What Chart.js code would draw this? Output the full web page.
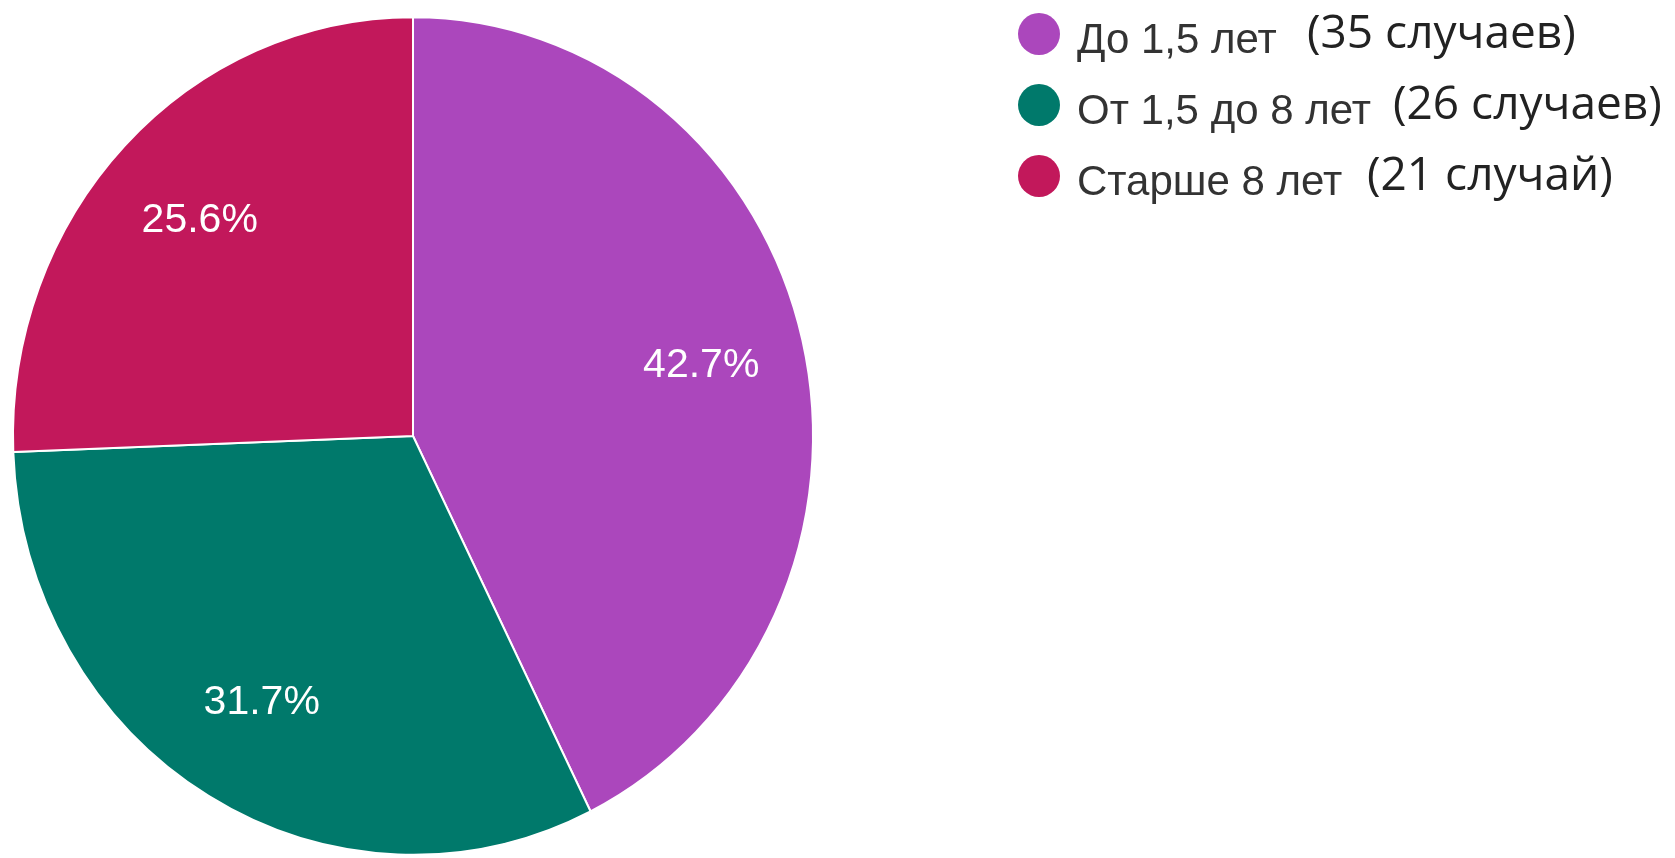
<!DOCTYPE html>
<html lang="ru">
<head>
<meta charset="utf-8">
<script src="https://cdn.jsdelivr.net/npm/chart.js@4.4.1/dist/chart.umd.min.js"></script>
<style>
    html, body { margin: 0; padding: 0; background: #fff; overflow: hidden; }
    #wrap { width: 1675px; height: 858px; }
</style>
</head>
<body>
<div id="wrap"><canvas id="ageChart" width="1675" height="858"></canvas></div>
<script>
// data
const categories = ['До 1,5 лет', 'От 1,5 до 8 лет', 'Старше 8 лет'];
const caseCounts = [35, 26, 21];
const caseWords = ['случаев', 'случаев', 'случай'];
const sliceColors = ['#ab47bc', '#00796b', '#c2185b'];

// layout bits
const Y_STRETCH = 1.047;          // the source pie is a little taller than wide
const LABEL_RADIUS = 0.74;
const legendCountX = [1307, 1393, 1367];

const totalCases = caseCounts.reduce((a, b) => a + b, 0);

// draw the arcs slightly stretched vertically, around the pie centre
const stretchPlugin = {
    id: 'stretch',
    beforeDatasetsDraw(chart) {
        const arc = chart.getDatasetMeta(0).data[0];
        const ctx = chart.ctx;
        ctx.save();
        ctx.translate(arc.x, arc.y);
        ctx.scale(1, Y_STRETCH);
        ctx.translate(-arc.x, -arc.y);
    },
    afterDatasetsDraw(chart) {
        chart.ctx.restore();
    }
};

// percentage text inside slices
const sliceLabels = {
    id: 'sliceLabels',
    afterDraw(chart) {
        const ctx = chart.ctx;
        const meta = chart.getDatasetMeta(0);
        ctx.save();
        ctx.font = '41px "Liberation Sans", Arial, sans-serif';
        ctx.fillStyle = '#ffffff';
        ctx.textAlign = 'center';
        ctx.textBaseline = 'middle';
        meta.data.forEach((arc, i) => {
            const mid = (arc.startAngle + arc.endAngle) / 2;
            const r = arc.outerRadius * LABEL_RADIUS;
            const x = arc.x + Math.cos(mid) * r;
            const y = arc.y + Math.sin(mid) * r * Y_STRETCH;
            const pct = (caseCounts[i] / totalCases * 100).toFixed(1) + '%';
            ctx.fillText(pct, x, y);
        });
        ctx.restore();
    }
};

// legend on the right, label + (count) in a second font
const sideLegend = {
    id: 'sideLegend',
    afterDraw(chart) {
        const ctx = chart.ctx;
        ctx.save();
        categories.forEach((name, i) => {
            const base = 53 + i * 71;
            ctx.beginPath();
            ctx.arc(1039, base - 19, 21, 0, Math.PI * 2);
            ctx.fillStyle = sliceColors[i];
            ctx.fill();

            ctx.textAlign = 'left';
            ctx.textBaseline = 'alphabetic';
            ctx.fillStyle = '#333333';
            ctx.font = '42px "Liberation Sans", Arial, sans-serif';
            ctx.fillText(name, 1077, base);

            ctx.fillStyle = '#222222';
            ctx.font = '46px "Open Sans", "Noto Sans", sans-serif';
            ctx.fillText('(' + caseCounts[i] + ' ' + caseWords[i] + ')', legendCountX[i], base - 5);
        });
        ctx.restore();
    }
};

const ageChart = new Chart(document.getElementById('ageChart').getContext('2d'), {
    type: 'pie',
    data: {
        labels: categories,
        datasets: [{
            data: caseCounts,
            backgroundColor: sliceColors,
            borderColor: '#ffffff',
            borderWidth: 2
        }]
    },
    options: {
        responsive: false,
        animation: false,
        layout: {
            padding: { left: 12, top: 35, right: 861, bottom: 21 }
        },
        plugins: {
            legend: { display: false },
            tooltip: { enabled: false }
        }
    },
    plugins: [stretchPlugin, sliceLabels, sideLegend]
});
</script>
</body>
</html>
